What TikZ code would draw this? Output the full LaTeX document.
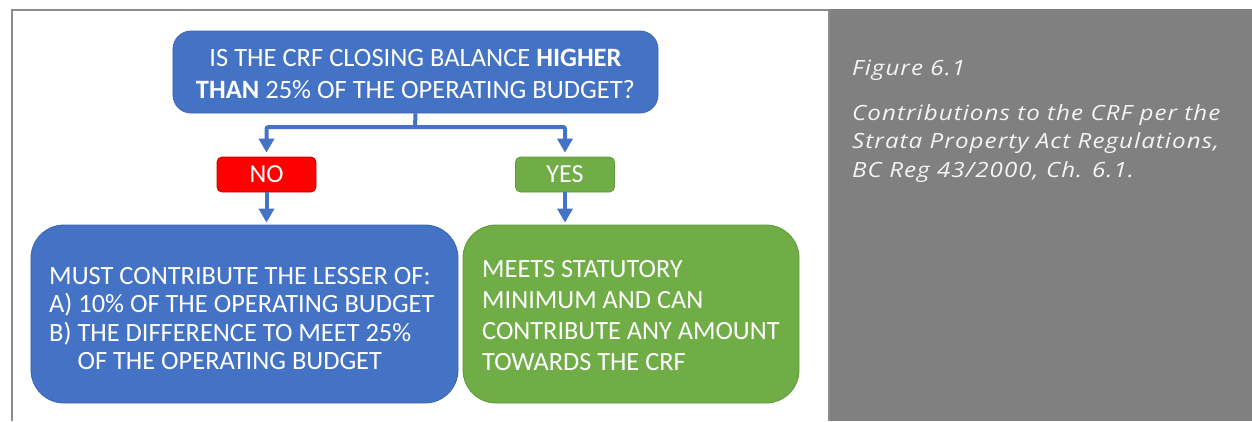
\documentclass[tikz,border=0pt]{standalone}
\usepackage{fontspec}
\setmainfont{Carlito}
\newfontfamily\capfont{Open Sans}[FakeStretch=1.15, LetterSpace=5]
\usetikzlibrary{arrows.meta}

\definecolor{boxblue}{HTML}{4472C4}
\definecolor{boxblueline}{HTML}{3B65B3}
\definecolor{boxgreen}{HTML}{70AD47}
\definecolor{boxgreenline}{HTML}{5E9A3A}
\definecolor{noRed}{HTML}{FF0000}
\definecolor{noRedline}{HTML}{C00000}
\definecolor{panelgray}{HTML}{808080}
\definecolor{framegray}{HTML}{8C8C8C}
\definecolor{captext}{HTML}{F4F4F4}

\begin{document}
\begin{tikzpicture}[x=1bp,y=-1bp,
  bluebox/.style={draw=boxblueline, line width=0.8bp, fill=boxblue, inner sep=0pt},
  greenbox/.style={draw=boxgreenline, line width=0.8bp, fill=boxgreen, inner sep=0pt},
  redbox/.style={draw=noRedline, line width=0.8bp, fill=noRed, inner sep=0pt},
  tagbox/.style={minimum width=99bp, minimum height=35bp, rounded corners=5bp,
    text=white, font={\fontsize{26bp}{30bp}\selectfont}, text height=16.5bp, text depth=0pt},
  boxtext/.style={text=white, inner sep=0pt},
  conn/.style={draw=boxblue, line width=4bp, rounded corners=2bp},
  arrowconn/.style={conn, -{Triangle[width=15bp,length=14bp]}},
  captxt/.style={text=captext, inner sep=0pt, anchor=base west,
    font={\capfont\itshape\fontsize{21bp}{28bp}\selectfont}}
]
\useasboundingbox (0,0) rectangle (1252,421);

% page frame and caption panel
\draw[framegray, line width=2bp] (11.5,421) -- (11.5,10) -- (828.5,10) -- (828.5,421);
\fill[panelgray] (829.5,9) rectangle (1252,421);

% decision box
\node[bluebox, minimum width=485bp, minimum height=82bp, rounded corners=18bp] (q) at (415.5,72) {};
\node[boxtext, anchor=north, align=center, font={\fontsize{26.5bp}{32bp}\selectfont}] (qtext) at (415.5,49)
  {IS THE CRF CLOSING BALANCE \textbf{HIGHER}\\\textbf{THAN} 25\% OF THE OPERATING BUDGET?};

% answer tags
\node[redbox, tagbox] (no) at (266.5,174.5) {NO};
\node[greenbox, tagbox] (yes) at (565,174.5) {YES};

% outcome boxes
\node[bluebox, minimum width=427bp, minimum height=178bp, rounded corners=33bp] (lesser) at (244.5,314) {};
\node[boxtext, anchor=north west, align=left, font={\fontsize{26.4bp}{28.5bp}\selectfont}] (lessertext) at (49,267)
  {MUST CONTRIBUTE THE LESSER OF:\\A) 10\% OF THE OPERATING BUDGET\\B) THE DIFFERENCE TO MEET 25\%\\\phantom{B)\ }OF THE OPERATING BUDGET};

\node[greenbox, minimum width=336bp, minimum height=178bp, rounded corners=33bp] (meets) at (631,314) {};
\node[boxtext, anchor=north west, align=left, font={\fontsize{26.3bp}{31bp}\selectfont}] (meetstext) at (482,260)
  {MEETS STATUTORY\\MINIMUM AND CAN\\CONTRIBUTE ANY AMOUNT\\TOWARDS THE CRF};

% connectors
\coordinate (split) at (415,127);
\draw[conn] (q.south) -- (split);
\draw[arrowconn, shorten >=4bp] (split) -| (no.north);
\draw[arrowconn, shorten >=4bp] (split) -| (yes.north);
\draw[arrowconn, shorten >=2bp] (no.south) -- (no.south |- lesser.north);
\draw[arrowconn, shorten >=2bp] (yes.south) -- (yes.south |- meets.north);

% caption
\node[captxt] (capfig) at (852,75) {Figure 6.1};
\node[captxt] (cap1) at (852,120) {Contributions to the CRF per the};
\node[captxt] (cap2) at (852,148.5) {Strata Property Act Regulations,};
\node[captxt] (cap3) at (852,177) {BC Reg 43/2000, Ch. 6.1.};
\end{tikzpicture}
\end{document}
